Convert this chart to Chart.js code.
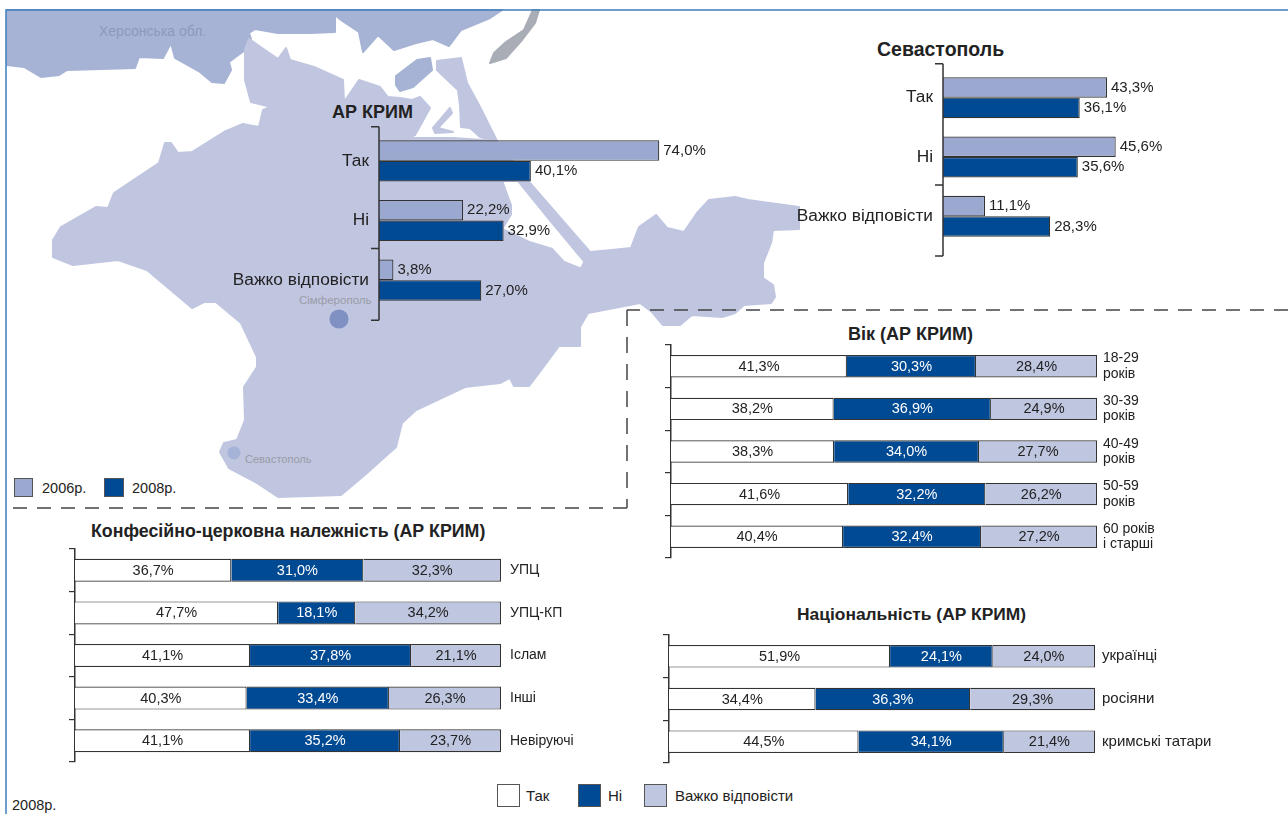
<!DOCTYPE html>
<html><head><meta charset="utf-8">
<script src="https://cdn.jsdelivr.net/npm/chart.js@4"></script>
<style>
html,body{margin:0;padding:0;background:#fff}
body{width:1288px;height:814px;position:relative;overflow:hidden;font-family:"Liberation Sans",Arial,sans-serif;color:#222}
svg.bg{position:absolute;left:0;top:0}
svg.bg polygon{stroke-linejoin:round;stroke-width:2}
canvas{position:absolute;display:block}
.t{position:absolute;white-space:nowrap;line-height:1}
.b{font-weight:bold}
.g{color:#9a9ca6}
.sw{position:absolute;box-sizing:border-box;border:1.5px solid #555}
</style></head><body>
<svg class="bg" width="1288" height="814">
  <polygon fill="#A6B3D5" stroke="#A6B3D5" points="7,10 502,10 490,18 461,30 449,46 433,39 416,43 394,50 378,35 363,52 359,32 341,20 335,15 335,32 310,33 278,33 255,29 249,33 251,39 245,50 229,62 231,70 224,83 212,82 200,72 175,58 171,43 163,58 139,57 135,68 67,70 59,75 41,77 24,67 7,65"/>
  <polygon fill="#A6B3D5" stroke="#A6B3D5" points="396,76 417,60 430,58 432,70 413,87 400,91 396,85"/>
  <polygon fill="#A9ADB5" stroke="#A9ADB5" points="539,10 533,10 524,30 506,42 494,53 490,63 506,58 522,40 535,23"/>
  <polygon fill="#C0C6E0" stroke="#C0C6E0" points="249,39 265,50 278,59 286,48 290,60 314,67 343,80 344,102 359,80 380,87 388,97 400,98 412,100 420,97 430,108 415,135 408,138 453,138 497,141 530,183 590,252 612,250 631,248 639,227 656,215 667,228 684,232 697,213 709,200 735,197 748,200 799,207 799,229 773,230 771,243 763,263 763,278 773,285 775,297 771,303 744,305 735,313 722,317 692,315 680,325 663,325 652,312 640,303 588,313 580,327 580,346 559,346 539,373 529,386 514,386 510,378 500,383 465,387 416,410 402,423 396,447 367,473 341,495 278,497 257,483 229,468 220,452 224,443 237,440 245,420 244,387 257,367 257,357 241,323 216,302 204,302 192,308 147,270 118,260 73,265 53,257 53,240 61,227 96,207 108,208 114,193 159,163 165,143 171,143 178,153 192,152 224,132 243,124 259,127 263,110 271,107 251,102 245,80 245,50"/>
  <polygon fill="#C0C6E0" stroke="#C0C6E0" points="437,61 461,58 467,83 480,107 497,141 480,137 470,128 461,127 460,105 458,90 437,70"/>
  <polygon fill="#C0C6E0" stroke="#C0C6E0" points="433,128 450,108 452,113 438,128 453,132 435,133"/>
  <polygon fill="#fff" stroke="#fff" points="505,183 517,183 547,220 582,262 580,266 565,260 553,247 530,240 505,228 513,215 513,205"/>
  <circle cx="339" cy="319" r="9.6" fill="#7F90C3"/>
  <circle cx="234" cy="453" r="6.5" fill="#A6B3D8"/>
  <path d="M6 814V10H1288" fill="none" stroke="#3D7DBB" stroke-width="1.5"/>
  <path d="M1288 310H627" fill="none" stroke="#444" stroke-width="1.5" stroke-dasharray="14 10"/>
  <path d="M627 310V508" fill="none" stroke="#444" stroke-width="1.5" stroke-dasharray="16 11"/>
  <path d="M627 508H12" fill="none" stroke="#444" stroke-width="1.5" stroke-dasharray="14 10"/>
</svg>

<div class="t g" style="left:99px;top:24px;font-size:14px;color:#8D99BC">Херсонська обл.</div>
<div class="t g" style="left:299px;top:295px;font-size:11.5px">Сімферополь</div>
<div class="t g" style="left:245px;top:454px;font-size:11px">Севастополь</div>

<div class="t b" style="left:332px;top:103px;font-size:18px">АР КРИМ</div>
<div class="t b" style="left:877px;top:40px;font-size:19.5px">Севастополь</div>
<div class="t b" style="left:848px;top:325px;font-size:18px">Вік (АР КРИМ)</div>
<div class="t b" style="left:91px;top:523px;font-size:17.8px">Конфесійно-церковна належність (АР КРИМ)</div>
<div class="t b" style="left:797px;top:606px;font-size:17.4px">Національність (АР КРИМ)</div>

<div class="sw" style="left:14px;top:478px;width:19px;height:19px;background:#9BA8D0"></div>
<div class="t" style="left:42px;top:481px;font-size:14.5px">2006р.</div>
<div class="sw" style="left:104px;top:478px;width:20px;height:19px;background:#004A93"></div>
<div class="t" style="left:132px;top:481px;font-size:14.5px">2008р.</div>
<div class="t" style="left:12px;top:798px;font-size:14.5px">2008р.</div>

<div class="sw" style="left:497px;top:784px;width:23px;height:23px;background:#fff"></div>
<div class="t" style="left:526px;top:788px;font-size:15px">Так</div>
<div class="sw" style="left:578px;top:784px;width:23px;height:23px;background:#004A93"></div>
<div class="t" style="left:608px;top:788px;font-size:15px">Ні</div>
<div class="sw" style="left:644px;top:784px;width:23px;height:23px;background:#BFC6E0"></div>
<div class="t" style="left:675px;top:788px;font-size:15px">Важко відповісти</div>

<script>
// ---------- data ----------
const answerLabels = ['Так', 'Ні', 'Важко відповісти'];
const crimea2006 = [74.0, 22.2, 3.8];
const crimea2008 = [40.1, 32.9, 27.0];
const sevastopol2006 = [43.3, 45.6, 11.1];
const sevastopol2008 = [36.1, 35.6, 28.3];

const ageLabels = [['18-29', 'років'], ['30-39', 'років'], ['40-49', 'років'], ['50-59', 'років'], ['60 років', 'і старші']];
const ageYes = [41.3, 38.2, 38.3, 41.6, 40.4];
const ageNo = [30.3, 36.9, 34.0, 32.2, 32.4];
const ageHard = [28.4, 24.9, 27.7, 26.2, 27.2];

const faithLabels = ['УПЦ', 'УПЦ-КП', 'Іслам', 'Інші', 'Невіруючі'];
const faithYes = [36.7, 47.7, 41.1, 40.3, 41.1];
const faithNo = [31.0, 18.1, 37.8, 33.4, 35.2];
const faithHard = [32.3, 34.2, 21.1, 26.3, 23.7];

const natLabels = ['українці', 'росіяни', 'кримські татари'];
const natYes = [51.9, 34.4, 44.5];
const natNo = [24.1, 36.3, 34.1];
const natHard = [24.0, 29.3, 21.4];

// axis extent and tick places of the two grouped charts, in category units
const groupedAxisTicks = [-0.57, 1.47, 2.67];

// ---------- colours ----------
const C2006 = '#9BA8D0', C2008 = '#004A93', CHARD = '#BFC6E0', CYES = '#FFFFFF', EDGE = '#333333', INK = '#222222';
const FONT = '"Liberation Sans", Arial, sans-serif';
const fmt = v => v.toFixed(1).replace('.', ',') + '%';

function addCanvas(left, top, w, h) {
  const c = document.createElement('canvas');
  c.width = w; c.height = h;
  c.style.left = left + 'px'; c.style.top = top + 'px';
  c.style.width = w + 'px'; c.style.height = h + 'px';
  document.body.appendChild(c);
  return c.getContext('2d');
}

const groupedPlugin = {
  id: 'grouped',
  afterDatasetsDraw(chart) {
    const { ctx, scales: { y }, chartArea: a } = chart;
    ctx.save();
    ctx.strokeStyle = EDGE; ctx.lineWidth = 1.5;
    const ys = groupedAxisTicks.map(v => y.getPixelForValue(v));
    ctx.beginPath();
    ctx.moveTo(a.left, ys[0]); ctx.lineTo(a.left, ys[ys.length - 1]);
    ys.forEach(p => { ctx.moveTo(a.left - 8, p); ctx.lineTo(a.left, p); });
    ctx.stroke();
    ctx.fillStyle = INK; ctx.font = '15px ' + FONT; ctx.textAlign = 'left'; ctx.textBaseline = 'middle';
    chart.data.datasets.forEach((ds, i) => {
      chart.getDatasetMeta(i).data.forEach((bar, j) => ctx.fillText(fmt(ds.data[j]), bar.x + 4, bar.y));
    });
    ctx.restore();
  }
};

const stackedPlugin = {
  id: 'stackedLabels',
  afterDatasetsDraw(chart) {
    const { ctx } = chart;
    ctx.save();
    ctx.font = '14.5px ' + FONT; ctx.textAlign = 'center'; ctx.textBaseline = 'middle';
    chart.data.datasets.forEach((ds, i) => {
      ctx.fillStyle = i === 1 ? '#FFFFFF' : INK;
      chart.getDatasetMeta(i).data.forEach((bar, j) => ctx.fillText(fmt(ds.data[j]), (bar.x + bar.base) / 2, bar.y + 0.5));
    });
    ctx.restore();
  }
};

function noPad(s, w) { s.width = w; s.paddingTop = 0; s.paddingBottom = 0; }

function grouped(axisX, plotTop, plotBottom, a, b) {
  const L = 160, padV = 14, padR = 60, visibleMax = 80, pxPerPct = 3.79;
  const w = L + visibleMax * pxPerPct + padR;
  const ctx = addCanvas(axisX - L, plotTop - padV, w, plotBottom - plotTop + 2 * padV);
  new Chart(ctx, {
    type: 'bar',
    data: {
      labels: answerLabels,
      datasets: [
        { label: '2006р.', data: a, backgroundColor: C2006, borderColor: EDGE, borderWidth: 1.2 },
        { label: '2008р.', data: b, backgroundColor: C2008, borderColor: EDGE, borderWidth: 1.2 }
      ]
    },
    options: {
      indexAxis: 'y', responsive: false, animation: false,
      layout: { padding: { top: padV, bottom: padV, right: padR, left: 0 } },
      datasets: { bar: { barPercentage: 1, categoryPercentage: 0.69 } },
      plugins: { legend: { display: false }, tooltip: { enabled: false } },
      scales: {
        x: { type: 'linear', min: 0, max: visibleMax, display: false },
        y: {
          type: 'category', offset: true,
          grid: { display: false, drawTicks: false }, border: { display: false },
          ticks: { color: INK, font: { family: FONT, size: 17.3 }, padding: 10, autoSkip: false },
          afterFit(s) { noPad(s, L); }
        }
      }
    },
    plugins: [groupedPlugin]
  });
}

function stacked(axisX, plotTop, plotBottom, plotW, labels, yes, no, hard, thickness, labelSize, labelGap) {
  const L = 8, R = 120;
  const ctx = addCanvas(axisX - L, plotTop - 1, L + plotW + R, plotBottom - plotTop + 2);
  const band = (plotBottom - plotTop) / labels.length;
  new Chart(ctx, {
    type: 'bar',
    data: {
      labels,
      datasets: [
        { label: 'Так', data: yes, backgroundColor: CYES, borderColor: EDGE, borderWidth: 1.2 },
        { label: 'Ні', data: no, backgroundColor: C2008, borderColor: EDGE, borderWidth: 1.2 },
        { label: 'Важко відповісти', data: hard, backgroundColor: CHARD, borderColor: EDGE, borderWidth: 1.2 }
      ]
    },
    options: {
      indexAxis: 'y', responsive: false, animation: false,
      layout: { padding: { top: 1, bottom: 1, left: 0, right: 0 } },
      datasets: { bar: { barPercentage: thickness / band, categoryPercentage: 1 } },
      plugins: { legend: { display: false }, tooltip: { enabled: false } },
      scales: {
        x: { type: 'linear', min: 0, max: 100, stacked: true, display: false },
        y: {
          type: 'category', stacked: true, offset: true, position: 'left',
          grid: { display: true, drawOnChartArea: false, drawTicks: true, tickLength: 6, offset: true, color: EDGE, lineWidth: 1.2 },
          border: { display: true, color: EDGE, width: 1.5 },
          ticks: { display: false },
          afterFit(s) { noPad(s, L); }
        },
        y2: {
          type: 'category', offset: true, position: 'right',
          grid: { display: false, drawTicks: false }, border: { display: false },
          ticks: { color: INK, font: { family: FONT, size: labelSize, lineHeight: 1.1 }, padding: labelGap, autoSkip: false },
          afterFit(s) { noPad(s, R); }
        }
      }
    },
    plugins: [stackedPlugin]
  });
}

grouped(379, 131, 310, crimea2006, crimea2008);
grouped(943, 68, 246, sevastopol2006, sevastopol2008);
stacked(671, 344.5, 558, 426, ageLabels, ageYes, ageNo, ageHard, 22.5, 14, 6);
stacked(75, 548.5, 761.5, 426, faithLabels, faithYes, faithNo, faithHard, 23, 14, 9);
stacked(669, 635, 763, 426, natLabels, natYes, natNo, natHard, 22.5, 15, 7);
</script>
</body></html>
